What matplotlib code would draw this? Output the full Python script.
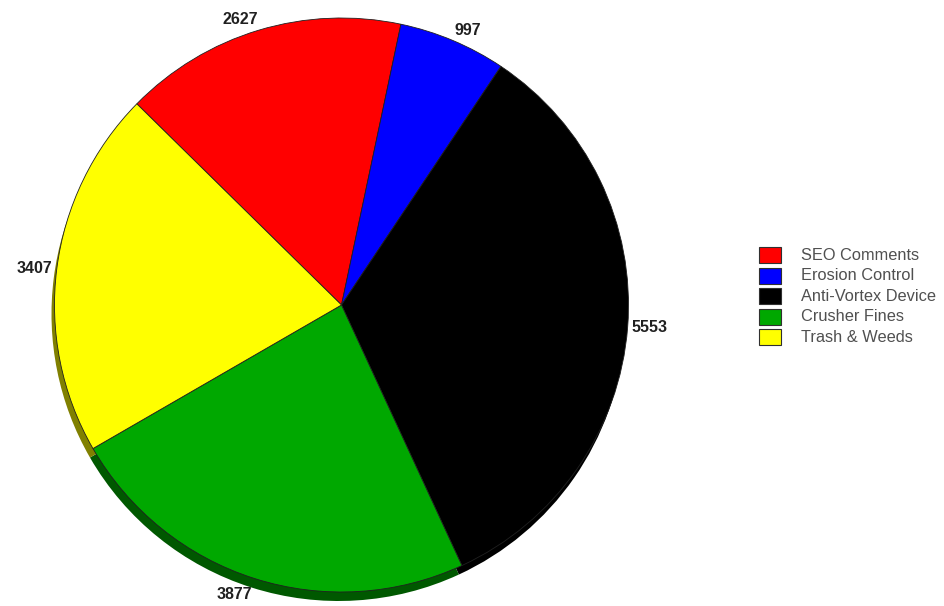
import numpy as np
import matplotlib
matplotlib.use("Agg")
import matplotlib.pyplot as plt
from matplotlib.patches import Rectangle

categories = ["SEO Comments", "Erosion Control", "Anti-Vortex Device", "Crusher Fines", "Trash & Weeds"]
values = [2627, 997, 5553, 3877, 3407]
colors = ["#FF0000", "#0000FF", "#000000", "#00A800", "#FFFF00"]
shadow_colors = ["#800000", "#000080", "#000000", "#005800", "#808000"]

W, H = 945, 606
fig = plt.figure(figsize=(W / 100, H / 100), dpi=100)
ax = fig.add_axes([0, 0, 1, 1])

cx, cy, r = 341.5, H - 305, 287
start = 135.5

# shadow under the pie
ax.pie(values, colors=shadow_colors, startangle=start, counterclock=False,
       center=(cx - 3, cy - 9), radius=r, frame=True,
       wedgeprops=dict(linewidth=0))
wedges, _ = ax.pie(values, colors=colors, startangle=start, counterclock=False,
                   center=(cx, cy), radius=r, frame=True,
                   wedgeprops=dict(edgecolor="#202020", linewidth=0.6))
ax.set_xlim(0, W)
ax.set_ylim(0, H)
ax.axis("off")

for w, v in zip(wedges, values):
    mid = np.deg2rad((w.theta1 + w.theta2) / 2)
    c, s = np.cos(mid), np.sin(mid)
    ha = "left" if c > 0 else "right"
    if s > 0.3:
        va = "bottom"
        rr = r + 3
    elif s < -0.3:
        va = "top"
        rr = r + 9
    else:
        va = "center"
        rr = r + 4
    x = cx + rr * c
    y = cy + rr * s
    ax.text(x, y, str(v), ha=ha, va=va, fontsize=11.5, fontweight="bold",
            family="Liberation Sans", color="#202020")

# legend
for i, (lab, col) in enumerate(zip(categories, colors)):
    y = H - (255 + i * 20.6)
    ax.add_patch(Rectangle((759, y - 8), 22, 16, facecolor=col,
                           edgecolor="#303030", linewidth=0.8))
    ax.text(801, y, lab, ha="left", va="center", fontsize=11.8,
            family="Liberation Sans", color="#505050")

fig.savefig("out.png", dpi=100, facecolor="white")
